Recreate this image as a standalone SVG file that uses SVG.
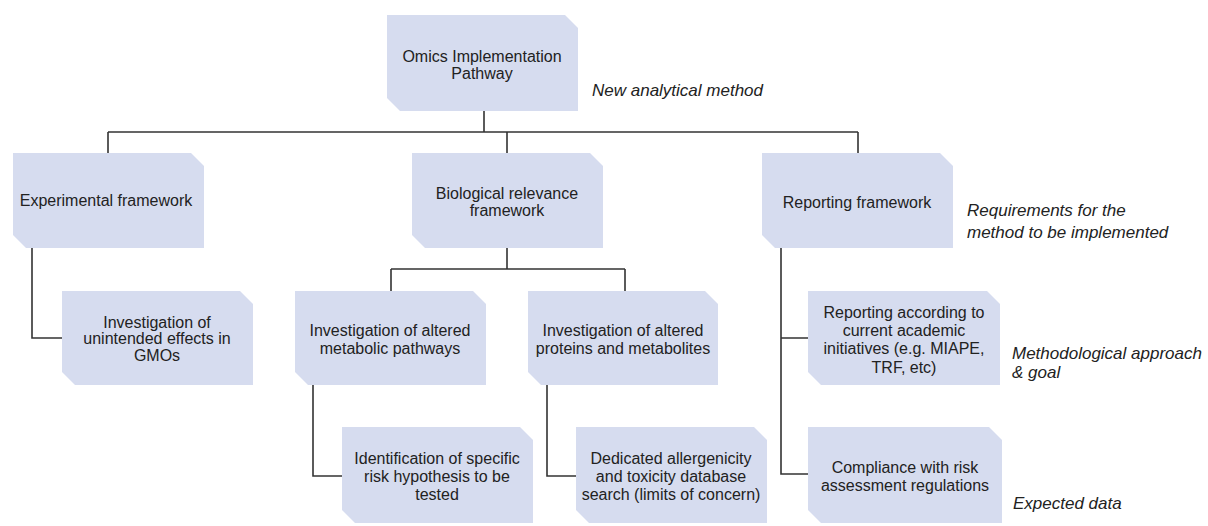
<svg xmlns="http://www.w3.org/2000/svg" width="1208" height="526" viewBox="0 0 1208 526">
<style>
.box{fill:#d6dcef;stroke:none}
.t{font-family:"Liberation Sans",Arial,sans-serif;font-size:16px;fill:#222;text-anchor:middle}
.it{font-family:"Liberation Sans",Arial,sans-serif;font-size:17px;font-style:italic;fill:#222}
.c{fill:none;stroke:#333;stroke-width:1.6}
</style>
<rect width="1208" height="526" fill="#fff"/>
<g id="connectors">
<path class="c" d="M484 111 V132 M108 132 H858 M108 132 V153 M507 132 V153 M858 132 V153"/>
<path class="c" d="M32 248 V338 H62"/>
<path class="c" d="M507 248 V269 M391 269 H625 M391 269 V291 M625 269 V291"/>
<path class="c" d="M313 385 V476 H342"/>
<path class="c" d="M547 385 V476 H576"/>
<path class="c" d="M781 248 V474 H808 M781 338 H808"/>
</g>
<g id="root">
<polygon class="box" points="387,15 565,15 578,28 578,111 400,111 387,98"/>
<text class="t" x="482" y="62">Omics Implementation</text>
<text class="t" x="482" y="79">Pathway</text>
</g>
<g id="experimental">
<polygon class="box" points="13,153 191,153 204,166 204,248 26,248 13,235"/>
<text class="t" x="106" y="206">Experimental framework</text>
</g>
<g id="biological">
<polygon class="box" points="412,153 590,153 603,166 603,248 425,248 412,235"/>
<text class="t" x="507" y="199">Biological relevance</text>
<text class="t" x="507" y="216">framework</text>
</g>
<g id="reporting">
<polygon class="box" points="762,153 940,153 953,166 953,248 775,248 762,235"/>
<text class="t" x="857" y="208">Reporting framework</text>
</g>
<g id="unintended">
<polygon class="box" points="62,291 240,291 253,304 253,385 75,385 62,372"/>
<text class="t" x="157" y="328">Investigation of</text>
<text class="t" x="157" y="344">unintended effects in</text>
<text class="t" x="157" y="361">GMOs</text>
</g>
<g id="metabolic">
<polygon class="box" points="295,291 473,291 486,304 486,385 308,385 295,372"/>
<text class="t" x="390" y="336">Investigation of altered</text>
<text class="t" x="390" y="354">metabolic pathways</text>
</g>
<g id="proteins">
<polygon class="box" points="528,291 705,291 718,304 718,385 541,385 528,372"/>
<text class="t" x="623" y="336">Investigation of altered</text>
<text class="t" x="623" y="354">proteins and metabolites</text>
</g>
<g id="academic">
<polygon class="box" points="808,291 987,291 1000,304 1000,385 821,385 808,372"/>
<text class="t" x="904" y="318">Reporting according to</text>
<text class="t" x="904" y="336">current academic</text>
<text class="t" x="904" y="354">initiatives (e.g. MIAPE,</text>
<text class="t" x="904" y="373">TRF, etc)</text>
</g>
<g id="hypothesis">
<polygon class="box" points="342,427 520,427 533,440 533,523 355,523 342,510"/>
<text class="t" x="437" y="464">Identification of specific</text>
<text class="t" x="437" y="482">risk hypothesis to be</text>
<text class="t" x="437" y="500">tested</text>
</g>
<g id="database">
<polygon class="box" points="576,427 754,427 767,440 767,523 589,523 576,510"/>
<text class="t" x="671" y="464">Dedicated allergenicity</text>
<text class="t" x="671" y="482">and toxicity database</text>
<text class="t" x="671" y="500">search (limits of concern)</text>
</g>
<g id="compliance">
<polygon class="box" points="808,427 989,427 1002,440 1002,523 821,523 808,510"/>
<text class="t" x="905" y="473">Compliance with risk</text>
<text class="t" x="905" y="491">assessment regulations</text>
</g>
<g id="labels">
<text class="it" x="592" y="96">New analytical method</text>
<text class="it" x="967" y="216">Requirements for the</text>
<text class="it" x="967" y="238">method to be implemented</text>
<text class="it" x="1012" y="359">Methodological approach</text>
<text class="it" x="1012" y="378">&amp; goal</text>
<text class="it" x="1013" y="509">Expected data</text>
</g>
</svg>
